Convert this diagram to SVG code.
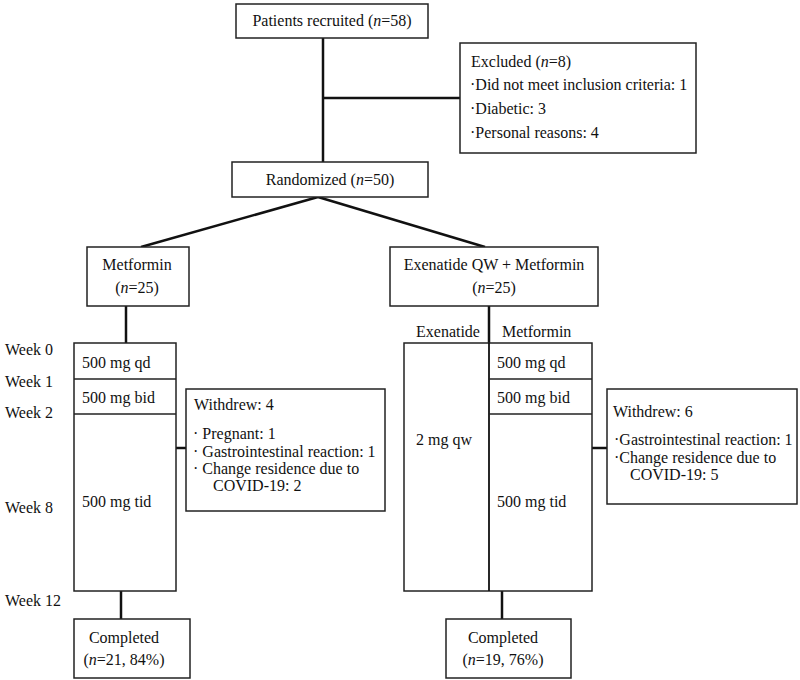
<svg xmlns="http://www.w3.org/2000/svg" width="800" height="680" viewBox="0 0 800 680">
<style>
.box{fill:#fff;stroke:#222;stroke-width:1.5}
.ln{stroke:#111;stroke-width:2.5;fill:none}
.dv{stroke:#222;stroke-width:1.5;fill:none}
text{font-family:"Liberation Serif","Times New Roman",serif;font-size:16px;fill:#111}
.c{text-anchor:middle}
</style>
<rect width="800" height="680" fill="#fff"/>
<g id="connectors">
<line class="ln" x1="323" y1="38" x2="323" y2="162"/>
<line class="ln" x1="323" y1="98" x2="460" y2="98"/>
<line class="ln" x1="318" y1="197" x2="141" y2="247"/>
<line class="ln" x1="318" y1="197" x2="485" y2="247"/>
<line class="ln" x1="126" y1="306" x2="126" y2="343"/>
<line class="ln" x1="489" y1="306" x2="489" y2="343"/>
<line class="ln" x1="121" y1="591" x2="121" y2="619"/>
<line class="ln" x1="502" y1="591" x2="502" y2="619"/>
<line class="ln" x1="176" y1="448" x2="186" y2="448"/>
<line class="ln" x1="592" y1="448" x2="607" y2="448"/>
</g>
<g id="recruited">
<rect class="box" x="236" y="4" width="192" height="34"/>
<text x="332" y="26" class="c">Patients recruited (<tspan font-style="italic">n</tspan>=58)</text>
</g>
<g id="excluded">
<rect class="box" x="460" y="43" width="236" height="110"/>
<text x="471" y="67">Excluded (<tspan font-style="italic">n</tspan>=8)</text>
<text x="470" y="90">·Did not meet inclusion criteria: 1</text>
<text x="470" y="114">·Diabetic: 3</text>
<text x="470" y="138">·Personal reasons: 4</text>
</g>
<g id="randomized">
<rect class="box" x="232" y="162" width="196" height="35"/>
<text x="330" y="185" class="c">Randomized (<tspan font-style="italic">n</tspan>=50)</text>
</g>
<g id="metformin">
<rect class="box" x="87" y="247" width="102" height="59"/>
<text x="137" y="270" class="c">Metformin</text>
<text x="137" y="293" class="c">(<tspan font-style="italic">n</tspan>=25)</text>
</g>
<g id="exenatide">
<rect class="box" x="390" y="247" width="208" height="59"/>
<text x="494" y="270" class="c">Exenatide QW + Metformin</text>
<text x="494" y="293" class="c">(<tspan font-style="italic">n</tspan>=25)</text>
</g>
<g id="weeks">
<text x="5" y="355">Week 0</text>
<text x="5" y="387">Week 1</text>
<text x="5" y="418">Week 2</text>
<text x="5" y="513">Week 8</text>
<text x="5" y="606">Week 12</text>
</g>
<g id="left-schedule">
<rect class="box" x="74" y="343" width="102" height="248"/>
<line class="dv" x1="74" y1="379" x2="176" y2="379"/>
<line class="dv" x1="74" y1="414" x2="176" y2="414"/>
<text x="82" y="368">500 mg qd</text>
<text x="82" y="403">500 mg bid</text>
<text x="82" y="507">500 mg tid</text>
</g>
<g id="withdrew4">
<rect class="box" x="186" y="389" width="199" height="122"/>
<text x="194" y="410">Withdrew: 4</text>
<text x="193" y="439">· Pregnant: 1</text>
<text x="193" y="457">· Gastrointestinal reaction: 1</text>
<text x="193" y="474">· Change residence due to</text>
<text x="213" y="491">COVID-19: 2</text>
</g>
<g id="right-schedule">
<text x="416" y="337">Exenatide</text>
<text x="502" y="337">Metformin</text>
<rect class="box" x="404" y="343" width="188" height="248"/>
<line class="ln" x1="489" y1="343" x2="489" y2="591" style="stroke-width:1.8"/>
<line class="dv" x1="489" y1="379" x2="592" y2="379"/>
<line class="dv" x1="489" y1="414" x2="592" y2="414"/>
<text x="416" y="445">2 mg qw</text>
<text x="497" y="368">500 mg qd</text>
<text x="497" y="403">500 mg bid</text>
<text x="497" y="507">500 mg tid</text>
</g>
<g id="withdrew6">
<rect class="box" x="607" y="389" width="190" height="115"/>
<text x="613" y="417">Withdrew: 6</text>
<text x="614" y="445">·Gastrointestinal reaction: 1</text>
<text x="614" y="463">·Change residence due to</text>
<text x="630" y="480">COVID-19: 5</text>
</g>
<g id="completed-left">
<rect class="box" x="74" y="619" width="116" height="59"/>
<text x="124" y="643" class="c">Completed</text>
<text x="124" y="665" class="c">(<tspan font-style="italic">n</tspan>=21, 84%)</text>
</g>
<g id="completed-right">
<rect class="box" x="446" y="619" width="125" height="59"/>
<text x="503" y="643" class="c">Completed</text>
<text x="503" y="665" class="c">(<tspan font-style="italic">n</tspan>=19, 76%)</text>
</g>
</svg>
